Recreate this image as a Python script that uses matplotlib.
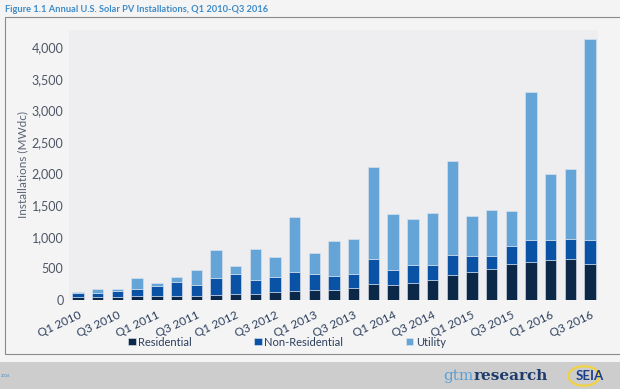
import numpy as np
import matplotlib.pyplot as plt
from matplotlib.patches import Rectangle, Circle

quarters = []
for yr in range(2010, 2017):
    for q in range(1, 5):
        quarters.append('Q%d %d' % (q, yr))
quarters = quarters[:27]

residential = [53, 53, 53, 63, 63, 63, 69, 79, 95, 100, 121, 137, 158, 158, 190, 248,
               237, 264, 316, 395, 448, 490, 564, 601, 632, 648, 574]
non_residential = [52, 52, 95, 111, 164, 216, 173, 264, 311, 211, 248, 306, 253, 227, 226, 405,
                   237, 295, 232, 311, 242, 211, 284, 353, 311, 322, 380]
utility = [27, 69, 21, 169, 47, 79, 232, 442, 132, 501, 311, 864, 327, 548, 543, 1444,
           880, 716, 833, 1486, 643, 722, 559, 2329, 1049, 1096, 3167]

c_res = '#0c2849'
c_non = '#0a52a6'
c_util = '#65a4d7'
txt = '#4d5566'

plt.rcParams['font.family'] = ['Lato', 'DejaVu Sans']

fig = plt.figure(figsize=(6.2, 3.89), dpi=100)
fig.patch.set_facecolor('#f4f4f4')

# outer frame and footer band (behind the axes)
fig.add_artist(Rectangle((5/620, 1-354/389), 640/620, (354-17)/389, transform=fig.transFigure,
                         facecolor='#f4f4f4', edgecolor='#8a8a8a', linewidth=0.8, zorder=-5))
fig.add_artist(Rectangle((0, 0), 1, 27/389, transform=fig.transFigure,
                         facecolor='#cdcdcd', edgecolor='none', zorder=-5))

ax = fig.add_axes([69/620, 1-300/389, (598-69)/620, 270/389])
ax.set_facecolor('#eeedf0')

x = np.arange(len(quarters))
res = np.array(residential)
non = np.array(non_residential)
util = np.array(utility)
w = 0.58
ax.bar(x, res, w, color=c_res, edgecolor='#dfe6ee', linewidth=0.4, label='Residential')
ax.bar(x, non, w, bottom=res, color=c_non, edgecolor='#dfe6ee', linewidth=0.4, label='Non-Residential')
ax.bar(x, util, w, bottom=res + non, color=c_util, edgecolor='#dfe6ee', linewidth=0.4, label='Utility')

ax.set_xlim(-0.46, 26.4)
ax.set_ylim(0, 4270)
ax.set_yticks(np.arange(0, 4001, 500))
ax.set_yticklabels(['{:,}'.format(v) for v in range(0, 4001, 500)], fontsize=9, color=txt)
ax.set_xticks(x[::2])
ax.set_xticklabels(quarters[::2], rotation=25, ha='right', rotation_mode='anchor',
                   fontsize=8.5, color='#2c3e5c')
ax.tick_params(length=0, pad=4)
ax.tick_params(axis='x', pad=7)
for s in ax.spines.values():
    s.set_visible(False)
ax.set_ylabel('Installations (MWdc)', fontsize=8.5, color='#5c6478', labelpad=2)

h, l = ax.get_legend_handles_labels()
fig.legend(h, l, ncol=3, loc='center', bbox_to_anchor=(0.463, 1-342/389), frameon=False,
           fontsize=8, handlelength=0.65, handleheight=0.65, handletextpad=0.25,
           columnspacing=5.6, labelcolor='#2c3e5c')

fig.text(5/620, 1-9/389, 'Figure 1.1 Annual U.S. Solar PV Installations, Q1 2010-Q3 2016',
         fontsize=6.7, color='#3d8bc9', fontweight='bold', va='center')

# footer logos
fig.text(1/620, 1-376/389, '2016', fontsize=3, color='#3d8bc9', va='center')
fig.text(474/620, 1-376/389, 'gtm', fontsize=11, color='#5a9fd6', va='center', ha='right',
         family='DejaVu Serif')
fig.text(474/620, 1-376/389, 'research', fontsize=11, color='#1d3c6c', va='center', ha='left',
         family='DejaVu Serif', fontweight='bold')
fig.add_artist(Circle((584/620, 1-376/389), 0.025, transform=fig.transFigure,
                      facecolor='none', edgecolor='#f3d23a', linewidth=1.5))
fig.text(576/620, 1-376/389, 'SEIA', fontsize=9.5, color='#1a3e8c', va='center', fontweight='bold')

fig.savefig('out.png', dpi=100, facecolor=fig.get_facecolor())
